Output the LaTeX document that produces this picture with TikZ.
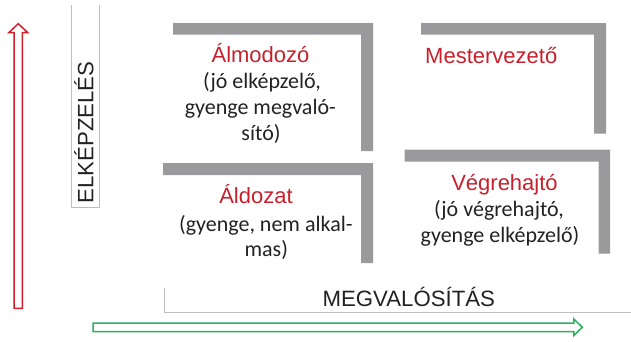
\documentclass[tikz,border=0pt]{standalone}
\usepackage{fontspec}
\setmainfont{Carlito}
\newfontfamily\arialf{Liberation Sans}
\definecolor{barg}{RGB}{154,154,156}
\definecolor{tred}{RGB}{200,32,44}
\definecolor{tdark}{RGB}{34,34,34}
\definecolor{axg}{RGB}{190,190,190}
\definecolor{arred}{RGB}{208,32,42}
\definecolor{argreen}{RGB}{44,178,92}
\tikzset{
  bar/.style={fill=barg},
  ttl/.style={font=\arialf\fontsize{22}{26}\selectfont, text=tred, anchor=base, inner sep=0pt},
  bdy/.style={font=\fontsize{22}{26}\selectfont, text=tdark, anchor=base, inner sep=0pt},
  axlab/.style={font=\arialf\fontsize{22.2}{26}\selectfont, text=tdark, anchor=base, inner sep=0pt},
  axbox/.style={draw=axg, line width=0.8pt},
  bigarrow/.style={line width=1.5pt, line join=miter, fill=white}
}
\begin{document}
\begin{tikzpicture}[x=1pt,y=-1pt]
\useasboundingbox (0,0) rectangle (631,341);
% gray brackets
\fill[bar] (173,23)--(373,23)--(373,151)--(361,151)--(361,34.5)--(173,34.5)--cycle;
\fill[bar] (163,163)--(373,163)--(373,263)--(361,263)--(361,175)--(163,175)--cycle;
\fill[bar] (421,23)--(606,23)--(606,133.5)--(594,133.5)--(594,34.5)--(421,34.5)--cycle;
\fill[bar] (404.5,149.5)--(610,149.5)--(610,253.5)--(598.5,253.5)--(598.5,161.5)--(404.5,161.5)--cycle;
% axis label boxes
\draw[axbox] (71,5)--(71,207)--(99,207)--(99,5);
\draw[axbox] (164,288)--(164,312.3)--(631,312.3);
\node[axlab, rotate=90] (elk) at (93.3,132.5) {ELKÉPZELÉS};
\node[axlab] (megv) at (408.8,306.7) {MEGVALÓSÍTÁS};
% arrows
\draw[bigarrow, draw=arred] (14,308.3)--(14,32.5)--(9,32.5)--(18.3,23.7)--(27.6,32.5)--(22.3,32.5)--(22.3,308.3)--cycle;
\draw[bigarrow, draw=argreen] (93,323)--(573.8,323)--(573.8,319)--(582.3,327.3)--(573.8,335.6)--(573.8,331.6)--(93,331.6)--cycle;
% Álmodozó
\node[ttl] (alm0) at (260.5,62.7) {Álmodozó};
\node[bdy] (alm1) at (262,88) {(jó elképzelő,};
\node[bdy] (alm2) at (260.3,114) {gyenge megvaló-};
\node[bdy] (alm3) at (261,140) {sító)};
% Mestervezető
\node[ttl, anchor=base west] (mest) at (425,63.3) {Mestervezető};
% Áldozat
\node[ttl] (ald0) at (256,203.5) {Áldozat};
\node[bdy] (ald1) at (265.8,231) {(gyenge, nem alkal-};
\node[bdy] (ald2) at (266.3,256.7) {mas)};
% Végrehajtó
\node[ttl] (veg0) at (504.5,190) {Végrehajtó};
\node[bdy] (veg1) at (499,216) {(jó végrehajtó,};
\node[bdy] (veg2) at (500,242) {gyenge elképzelő)};
\end{tikzpicture}
\end{document}
